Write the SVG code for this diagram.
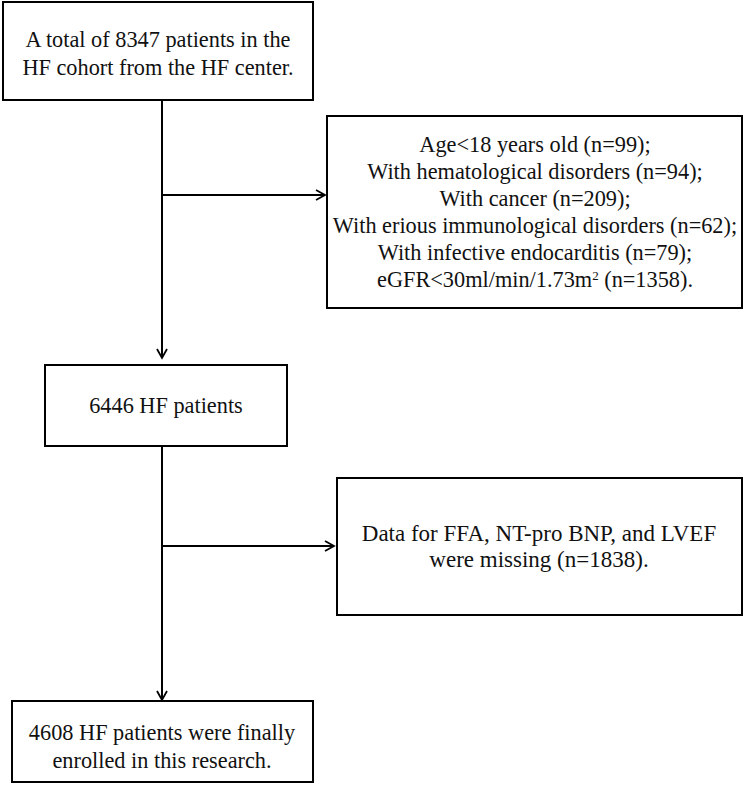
<svg xmlns="http://www.w3.org/2000/svg" width="744" height="792" viewBox="0 0 744 792">
<style>
.box{fill:#fff;stroke:#000;stroke-width:2}
.t{font-family:'Liberation Serif','Times New Roman',serif;font-size:22.3px;fill:#111;text-anchor:middle}
.t4{font-size:23px}
.c{fill:none;stroke:#000;stroke-width:2}
</style>
<defs>
<marker id="ah" markerWidth="12" markerHeight="12" refX="10" refY="6" orient="auto" markerUnits="userSpaceOnUse">
<path d="M1,1 L10,6 L1,11" fill="none" stroke="#000" stroke-width="1.8"/>
</marker>
</defs>
<g id="connectors">
<line class="c" x1="162" y1="100" x2="162" y2="358" marker-end="url(#ah)"/>
<line class="c" x1="162" y1="195" x2="325" y2="195" marker-end="url(#ah)"/>
<line class="c" x1="162" y1="446" x2="162" y2="700" marker-end="url(#ah)"/>
<line class="c" x1="162" y1="546" x2="334" y2="546" marker-end="url(#ah)"/>
</g>
<g id="n1">
<rect class="box" x="3" y="2" width="310" height="98"/>
<text class="t" x="158" y="47">A total of 8347 patients in the</text>
<text class="t" x="158" y="75">HF cohort from the HF center.</text>
</g>
<g id="n2">
<rect class="box" x="327" y="116" width="415" height="192"/>
<text class="t" x="535" y="152">Age&lt;18 years old (n=99);</text>
<text class="t" x="535" y="179">With hematological disorders (n=94);</text>
<text class="t" x="535" y="206">With cancer (n=209);</text>
<text class="t" x="535" y="233">With erious immunological disorders (n=62);</text>
<text class="t" x="535" y="260">With infective endocarditis (n=79);</text>
<text class="t" x="535" y="287">eGFR&lt;30ml/min/1.73m<tspan font-size="13" dy="-7">2</tspan><tspan dy="7"> (n=1358).</tspan></text>
</g>
<g id="n3">
<rect class="box" x="45" y="365" width="242" height="81"/>
<text class="t" x="166" y="413">6446 HF patients</text>
</g>
<g id="n4">
<rect class="box" x="337" y="478" width="405" height="137"/>
<text class="t t4" x="539" y="541">Data for FFA, NT-pro BNP, and LVEF</text>
<text class="t t4" x="539" y="567">were missing (n=1838).</text>
</g>
<g id="n5">
<rect class="box" x="12" y="701" width="301" height="81"/>
<text class="t" x="162" y="740">4608 HF patients were finally</text>
<text class="t" x="162" y="768">enrolled in this research.</text>
</g>
</svg>
